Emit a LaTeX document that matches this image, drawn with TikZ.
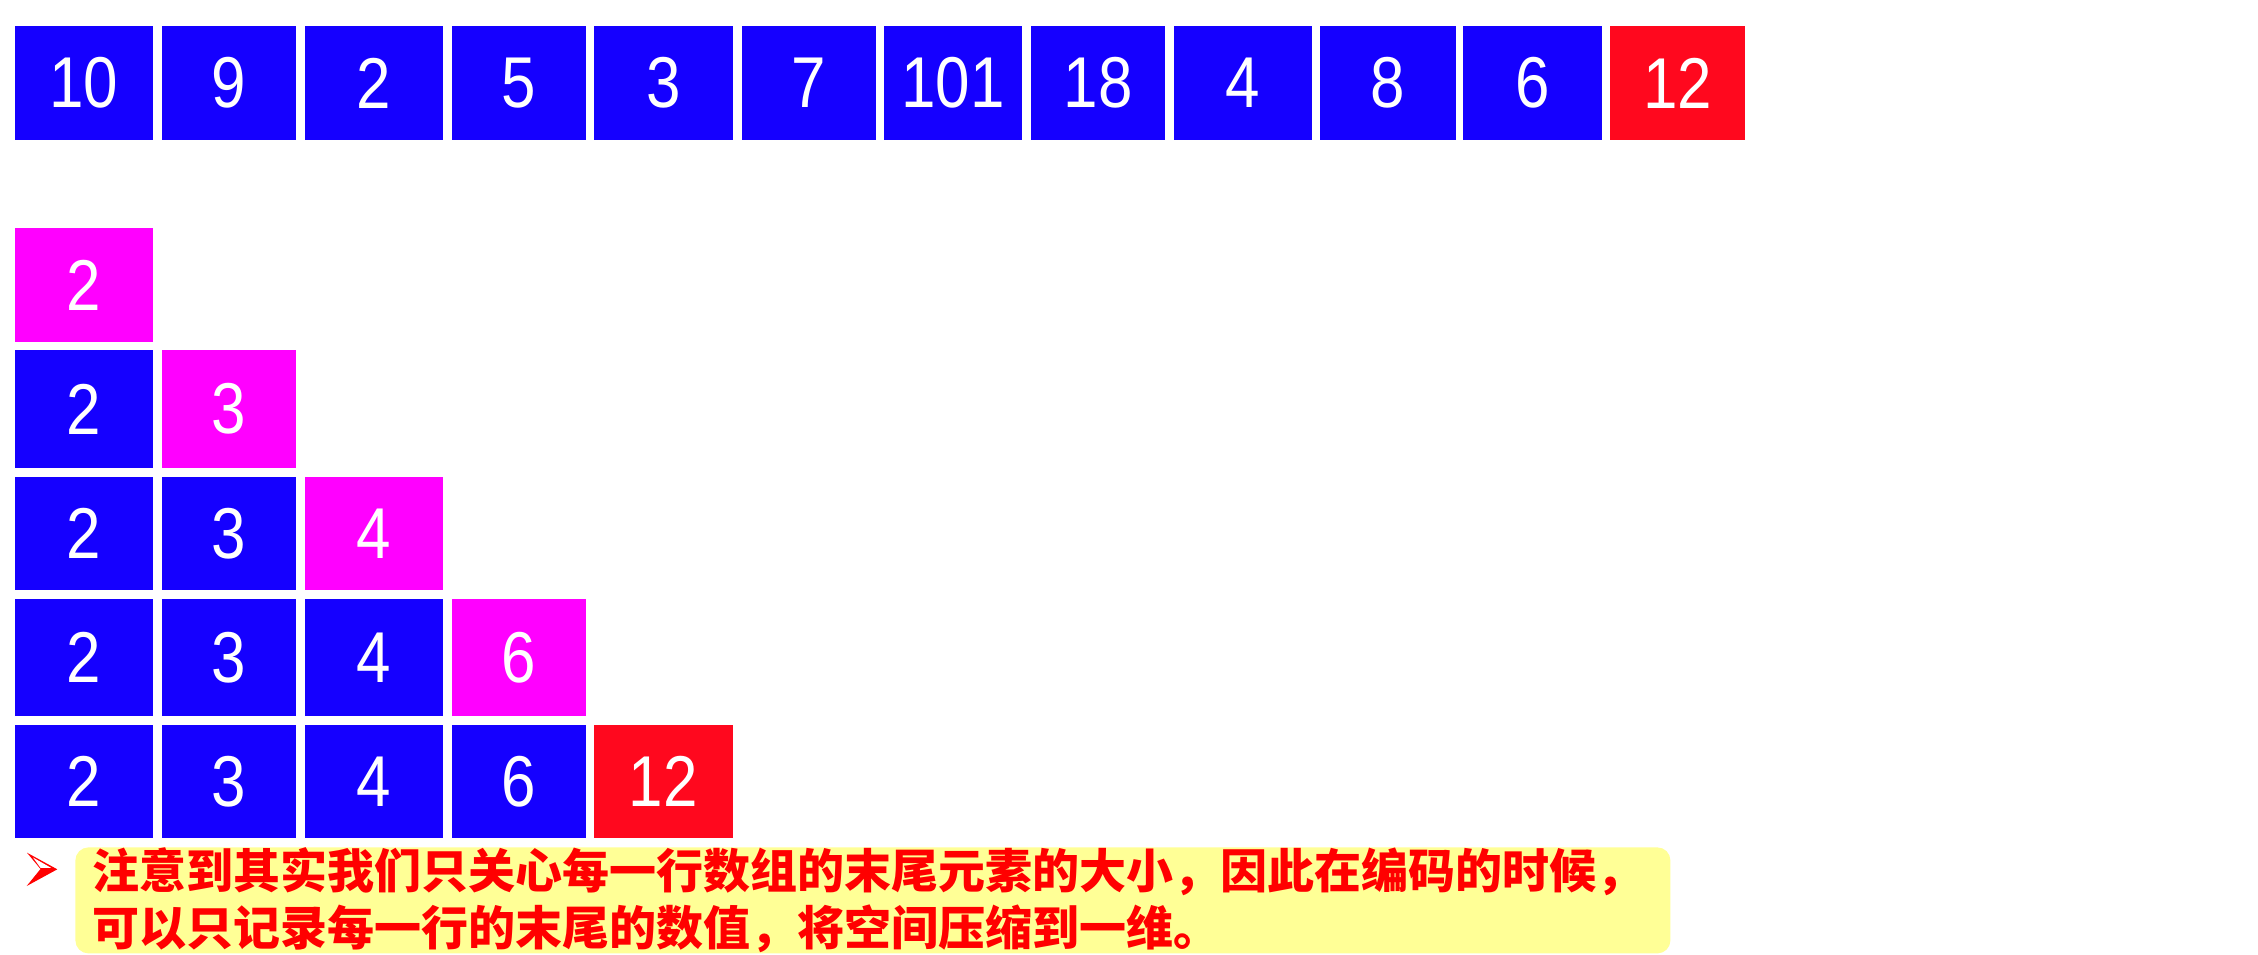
\documentclass[tikz,border=0pt]{standalone}
\usepackage{fontspec}
\setmainfont{Liberation Sans}
\newfontfamily\digitfont{Liberation Sans}[FakeStretch=0.86]
\newfontfamily\cjk{Noto Sans CJK SC}
\definecolor{cblue}{RGB}{21,0,255}
\definecolor{cmag}{RGB}{255,0,255}
\definecolor{cred}{RGB}{255,8,30}
\definecolor{cyel}{RGB}{255,255,150}
\definecolor{ctxt}{RGB}{255,0,0}
\tikzset{
  cell/.style={inner sep=0pt, text=white, font=\digitfont\fontsize{36}{36}\selectfont},
  note/.style={fill=cyel, rounded corners=6.5pt, inner xsep=8.5pt, inner ysep=0pt, align=left,
    text=ctxt, font=\cjk\bfseries\fontsize{23.5}{28.5}\selectfont}
}
\newcommand\cellbox[7]{\node[cell, fill=#6, minimum width={(#3-#2)*0.5pt}, minimum height={(#5-#4)*0.5pt}] (#1) at ({(#2+#3)/2},{(#4+#5)/2}) {#7};}
\begin{document}
\begin{tikzpicture}[x=0.5pt,y=-0.5pt]
\useasboundingbox[fill=white] (0,0) rectangle (2258,954);
% top row
\cellbox{t1}{14.7}{153}{26.3}{140}{cblue}{10}
\cellbox{t2}{161.7}{296}{26.3}{140}{cblue}{9}
\cellbox{t3}{305}{442.7}{26.3}{140}{cblue}{2}
\cellbox{t4}{451.5}{586}{26.3}{140}{cblue}{5}
\cellbox{t5}{594}{732.5}{26.3}{140}{cblue}{3}
\cellbox{t6}{742}{876}{26.3}{140}{cblue}{7}
\cellbox{t7}{884}{1022}{26.3}{140}{cblue}{101}
\cellbox{t8}{1031}{1165}{26.3}{140}{cblue}{18}
\cellbox{t9}{1174}{1312}{26.3}{140}{cblue}{4}
\cellbox{t10}{1320}{1456}{26.3}{140}{cblue}{8}
\cellbox{t11}{1463}{1602}{26.3}{140}{cblue}{6}
\cellbox{t12}{1610}{1745}{26.3}{140}{cred}{12}
% row 1
\cellbox{a1}{14.7}{153}{228.3}{341.7}{cmag}{2}
% row 2
\cellbox{b1}{14.7}{153}{350.3}{468}{cblue}{2}
\cellbox{b2}{161.7}{296}{350.3}{468}{cmag}{3}
% row 3
\cellbox{c1}{14.7}{153}{476.7}{590}{cblue}{2}
\cellbox{c2}{161.7}{296}{476.7}{590}{cblue}{3}
\cellbox{c3}{305}{442.7}{476.7}{590}{cmag}{4}
% row 4
\cellbox{d1}{14.7}{153}{598.7}{716}{cblue}{2}
\cellbox{d2}{161.7}{296}{598.7}{716}{cblue}{3}
\cellbox{d3}{305}{442.7}{598.7}{716}{cblue}{4}
\cellbox{d4}{451.5}{586}{598.7}{716}{cmag}{6}
% row 5
\cellbox{e1}{14.7}{153}{725}{838.3}{cblue}{2}
\cellbox{e2}{161.7}{296}{725}{838.3}{cblue}{3}
\cellbox{e3}{305}{442.7}{725}{838.3}{cblue}{4}
\cellbox{e4}{451.5}{586}{725}{838.3}{cblue}{6}
\cellbox{e5}{594}{732.5}{725}{838.3}{cred}{12}
% bullet arrow
\fill[ctxt] (27,852.7) -- (57.3,869.3) -- (26.7,886) -- (40.5,869) -- cycle;
\fill[white] (33,857.5) -- (51,867.8) -- (40.5,867.8) -- cycle;
% note
\node[note, anchor=north west, minimum width=797.5pt, minimum height=53pt, text width=780.5pt] (note) at (75,847)
  {注意到其实我们只关心每一行数组的末尾元素的大小，因此在编码的时候，\\可以只记录每一行的末尾的数值，将空间压缩到一维。};
\end{tikzpicture}
\end{document}
